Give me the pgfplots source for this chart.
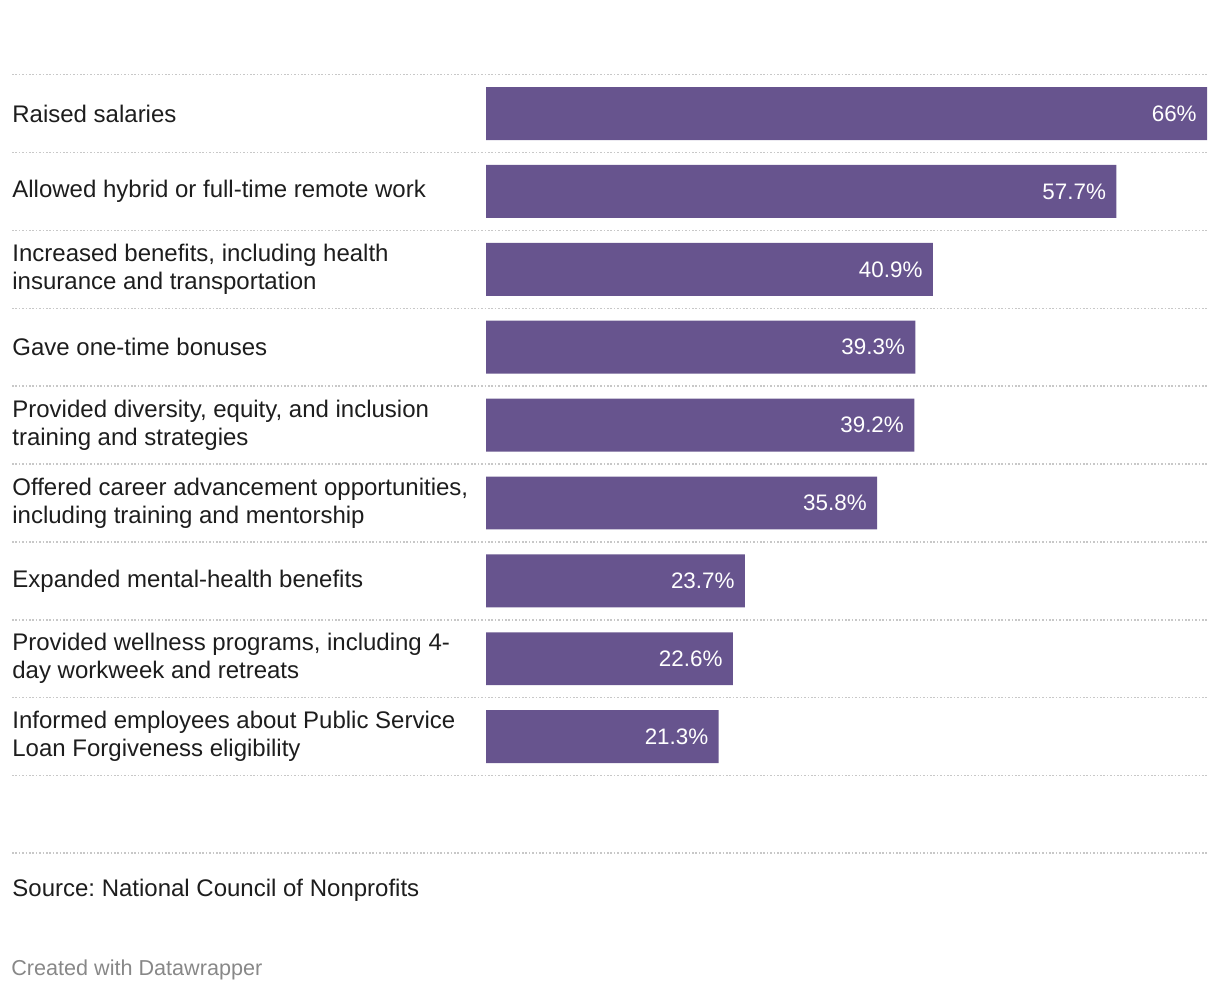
\documentclass[border=0pt]{standalone}
\usepackage{pgfplots}
\usepackage{pgfplotstable}
\pgfplotsset{compat=1.18}
\usepackage{fontspec}
\setmainfont{Liberation Sans}
\frenchspacing
\definecolor{barc}{HTML}{67548E}
\definecolor{txt}{HTML}{1D1D1D}
\definecolor{sepc}{HTML}{C8C8C8}
\definecolor{credit}{HTML}{888888}
\newcommand{\lbl}{\fontsize{12}{14}\selectfont}
\newcommand{\vlbl}{\fontsize{11.2}{14}\selectfont}

\pgfplotstableread{
y x lab
0 66 66
1 57.7 57.7
2 40.9 40.9
3 39.3 39.3
4 39.2 39.2
5 35.8 35.8
6 23.7 23.7
7 22.6 22.6
8 21.3 21.3
}\data

\begin{document}
\begin{tikzpicture}
\useasboundingbox (0,0) rectangle (610pt,-497pt);
\begin{axis}[
  at={(6pt,-37.3pt)}, anchor=north west,
  scale only axis, width=598pt, height=350.5pt,
  xmin=-43.39, xmax=66.09, ymin=-0.5, ymax=8.5,
  y dir=reverse, axis lines=none, clip=false,
  xbar, bar width=0.68,
]
\pgfplotsinvokeforeach{-0.5,0.5,1.5,2.5,3.5,4.5,5.5,6.5,7.5,8.5}{
  \draw[sepc, line width=0.7pt, dash pattern=on 0.8pt off 0.9pt] (axis cs:-43.39,#1) -- (axis cs:66.09,#1);
}
\addplot[fill=barc, draw=none,
  point meta=explicit symbolic,
  nodes near coords={\pgfplotspointmeta\%},
  nodes near coords style={anchor=east, text=white, inner sep=0pt, xshift=-5pt, font=\vlbl},
] table[x=x, y=y, meta=lab] {\data};
\begin{scope}[every node/.style={anchor=west, align=left, inner sep=0pt, text=txt, font=\lbl}]
\node at (axis cs:-43.39,0) {Raised salaries};
\node at (axis cs:-43.39,1) {Allowed hybrid or full-time remote work};
\node at (axis cs:-43.39,2) {Increased benefits, including health\\insurance and transportation};
\node at (axis cs:-43.39,3) {Gave one-time bonuses};
\node at (axis cs:-43.39,4) {Provided diversity, equity, and inclusion\\training and strategies};
\node at (axis cs:-43.39,5) {Offered career advancement opportunities,\\including training and mentorship};
\node at (axis cs:-43.39,6) {Expanded mental-health benefits};
\node at (axis cs:-43.39,7) {Provided wellness programs, including 4-\\day workweek and retreats};
\node at (axis cs:-43.39,8) {Informed employees about Public Service\\Loan Forgiveness eligibility};
\end{scope}
\end{axis}
\draw[sepc, line width=0.7pt, dash pattern=on 0.8pt off 0.9pt] (6pt,-426.5pt) -- (604pt,-426.5pt);
\node[anchor=west, inner sep=0pt, text=txt, font=\lbl] at (6pt,-445pt) {Source: National Council of Nonprofits};
\node[anchor=west, inner sep=0pt, text=credit, font=\fontsize{10.8}{12}\selectfont] at (5.5pt,-485pt) {Created with Datawrapper};
\end{tikzpicture}
\end{document}
